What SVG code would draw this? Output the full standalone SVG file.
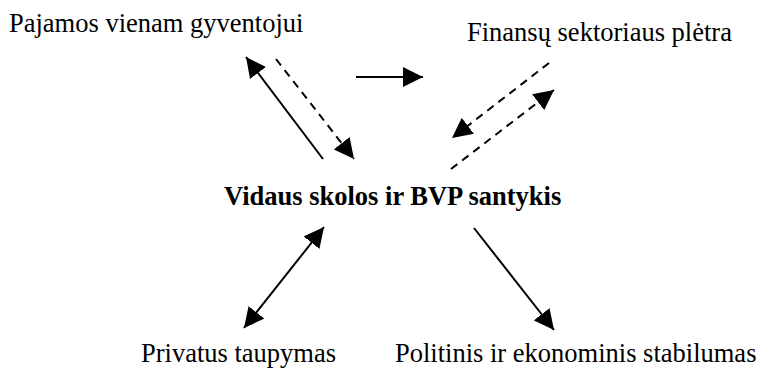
<svg xmlns="http://www.w3.org/2000/svg" width="761" height="369" viewBox="0 0 761 369">
<style>
text{font-family:'Liberation Serif','Times New Roman',Times,serif;font-size:26.5px;fill:#000}
.b{font-weight:bold}
.s{stroke:#000;stroke-width:2;fill:none}
.d{stroke-dasharray:8,6}
</style>
<defs>
<marker id="ah" viewBox="0 0 10 10" refX="10" refY="5" markerWidth="20" markerHeight="20" markerUnits="userSpaceOnUse" orient="auto-start-reverse">
<path d="M0,0 L10,5 L0,10 z" fill="#000"/>
</marker>
</defs>
<rect width="761" height="369" fill="#fff"/>
<g id="n1"><text x="9" y="32">Pajamos vienam gyventojui</text></g>
<g id="n2"><text x="467" y="41">Finansų sektoriaus plėtra</text></g>
<g id="n3"><text class="b" x="224" y="205">Vidaus skolos ir BVP santykis</text></g>
<g id="n4"><text x="141" y="362">Privatus taupymas</text></g>
<g id="n5"><text x="395" y="362">Politinis ir ekonominis stabilumas</text></g>
<g id="connectors">
<line class="s" x1="323" y1="159" x2="246" y2="57" marker-end="url(#ah)"/>
<line class="s d" x1="276" y1="59" x2="354" y2="159" marker-end="url(#ah)"/>
<line class="s" x1="356" y1="77" x2="423" y2="77" marker-end="url(#ah)"/>
<line class="s d" x1="549" y1="63" x2="452" y2="138" marker-end="url(#ah)"/>
<line class="s d" x1="451" y1="169" x2="554" y2="90" marker-end="url(#ah)"/>
<line class="s" x1="244" y1="328" x2="324" y2="227" marker-start="url(#ah)" marker-end="url(#ah)"/>
<line class="s" x1="474" y1="228" x2="554" y2="330" marker-end="url(#ah)"/>
</g>
</svg>
